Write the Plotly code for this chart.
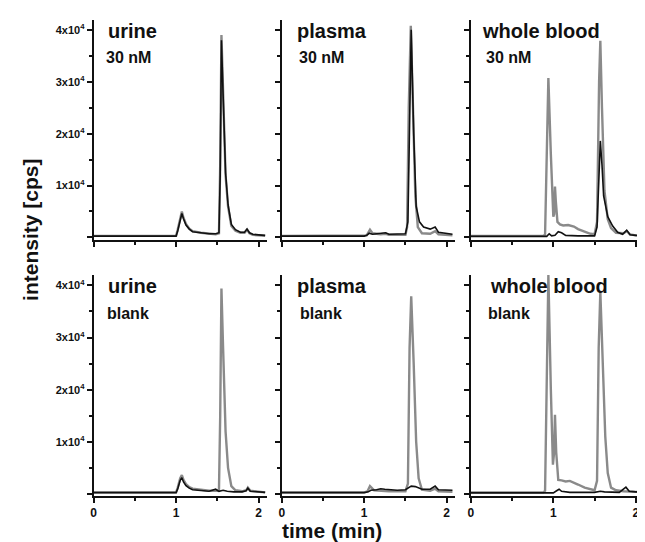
import plotly.graph_objects as go

# ---------------- data ----------------
# urine 30 nM
urine30_gray_t = [0, 0.5, 1.0, 1.02, 1.05, 1.07, 1.09, 1.12, 1.16, 1.2, 1.3, 1.4, 1.48, 1.52, 1.535, 1.55, 1.57, 1.6, 1.63, 1.67, 1.72, 1.78, 1.83, 1.86, 1.89, 1.93, 2.0, 2.08]
urine30_gray_v = [300, 300, 300, 1500, 3800, 5000, 3800, 2600, 1700, 1200, 900, 700, 600, 800, 14000, 39000, 27000, 12000, 6000, 2200, 1300, 900, 900, 1500, 800, 500, 400, 300]
urine30_black_t = [0, 0.5, 1.0, 1.02, 1.05, 1.07, 1.09, 1.12, 1.16, 1.2, 1.3, 1.4, 1.48, 1.52, 1.535, 1.55, 1.57, 1.6, 1.63, 1.67, 1.72, 1.78, 1.83, 1.86, 1.89, 1.93, 2.0, 2.08]
urine30_black_v = [250, 250, 250, 1300, 3500, 4600, 3600, 2400, 1600, 1100, 900, 700, 700, 900, 12000, 38000, 27500, 12500, 6300, 2500, 1500, 1000, 1000, 1600, 900, 600, 500, 400]

# urine blank
urineb_gray_t = [0, 0.5, 1.0, 1.02, 1.05, 1.07, 1.09, 1.12, 1.16, 1.2, 1.3, 1.4, 1.5, 1.52, 1.535, 1.55, 1.57, 1.6, 1.63, 1.67, 1.72, 1.8, 1.85, 1.87, 1.9, 2.0, 2.08]
urineb_gray_v = [300, 300, 300, 1200, 3000, 3600, 2700, 1900, 1300, 1000, 800, 600, 600, 800, 15000, 39400, 28000, 12000, 5000, 1500, 700, 500, 700, 1200, 600, 400, 300]
urineb_black_t = [0, 0.5, 1.0, 1.02, 1.05, 1.07, 1.09, 1.12, 1.16, 1.2, 1.3, 1.4, 1.48, 1.52, 1.57, 1.62, 1.7, 1.8, 1.85, 1.87, 1.9, 2.0, 2.08]
urineb_black_v = [250, 250, 250, 1000, 2600, 3100, 2300, 1600, 1100, 800, 600, 500, 900, 500, 700, 500, 400, 400, 600, 1100, 500, 400, 300]

# plasma 30 nM
plasma30_gray_t = [0, 0.5, 1.0, 1.03, 1.07, 1.1, 1.2, 1.26, 1.3, 1.5, 1.52, 1.54, 1.565, 1.59, 1.62, 1.65, 1.7, 1.8, 1.86, 1.9, 2.0, 2.07]
plasma30_gray_v = [300, 300, 300, 400, 1500, 800, 600, 700, 500, 500, 2000, 25000, 40800, 25000, 8000, 2000, 800, 700, 1200, 600, 400, 400]
plasma30_black_t = [0, 0.5, 1.0, 1.03, 1.06, 1.1, 1.2, 1.26, 1.3, 1.5, 1.53, 1.555, 1.57, 1.6, 1.63, 1.67, 1.72, 1.8, 1.86, 1.9, 2.0, 2.07]
plasma30_black_v = [250, 250, 250, 400, 800, 600, 700, 900, 600, 700, 3000, 30000, 40000, 20000, 6000, 3000, 2000, 1600, 2000, 1000, 700, 600]

# plasma blank
plasmab_gray_t = [0, 0.5, 1.0, 1.04, 1.07, 1.12, 1.3, 1.5, 1.53, 1.55, 1.57, 1.6, 1.63, 1.66, 1.7, 1.8, 1.86, 1.9, 2.0, 2.07]
plasmab_gray_v = [300, 300, 300, 500, 1500, 700, 500, 500, 2000, 28000, 37900, 25000, 10000, 3000, 800, 600, 1000, 500, 400, 400]
plasmab_black_t = [0, 0.5, 1.0, 1.05, 1.08, 1.15, 1.2, 1.25, 1.3, 1.4, 1.5, 1.57, 1.62, 1.7, 1.8, 1.86, 1.9, 2.0, 2.07]
plasmab_black_v = [250, 250, 250, 400, 700, 800, 1000, 900, 800, 700, 800, 1500, 1400, 900, 900, 1500, 800, 700, 700]

# whole blood 30 nM
blood30_gray_t = [0, 0.5, 0.88, 0.9, 0.92, 0.94, 0.97, 1.0, 1.01, 1.02, 1.03, 1.05, 1.08, 1.12, 1.18, 1.25, 1.3, 1.38, 1.45, 1.5, 1.53, 1.555, 1.57, 1.59, 1.62, 1.66, 1.7, 1.76, 1.85, 1.89, 1.93, 2.0, 2.07]
blood30_gray_v = [300, 300, 300, 500, 15000, 30700, 16000, 4000, 4500, 9800, 7000, 3000, 2500, 2300, 2400, 2100, 1600, 1100, 700, 600, 3000, 30000, 37900, 25000, 9000, 3500, 1800, 900, 800, 1200, 600, 400, 400]
blood30_black_t = [0, 0.5, 0.92, 0.95, 0.98, 1.02, 1.06, 1.1, 1.15, 1.3, 1.5, 1.53, 1.555, 1.57, 1.59, 1.61, 1.66, 1.72, 1.78, 1.84, 1.89, 1.93, 2.0, 2.07]
blood30_black_v = [200, 200, 200, 700, 300, 400, 1100, 900, 400, 300, 300, 2000, 12000, 18600, 14000, 8000, 4000, 2200, 1000, 600, 1400, 500, 400, 300]

# whole blood blank
bloodb_gray_t = [0, 0.5, 0.88, 0.9, 0.92, 0.94, 0.97, 0.995, 1.01, 1.02, 1.035, 1.06, 1.1, 1.15, 1.2, 1.25, 1.3, 1.38, 1.45, 1.5, 1.53, 1.55, 1.57, 1.6, 1.63, 1.66, 1.7, 1.76, 1.85, 2.0, 2.07]
bloodb_gray_v = [300, 300, 300, 600, 20000, 42000, 20000, 5600, 8000, 15200, 8000, 2700, 2600, 2400, 2500, 2200, 1800, 1200, 900, 700, 2500, 28000, 38800, 26000, 11000, 4000, 1200, 700, 500, 400, 400]
bloodb_black_t = [0, 0.5, 1.0, 1.04, 1.07, 1.1, 1.2, 1.5, 1.57, 1.62, 1.8, 1.88, 1.92, 2.0, 2.07]
bloodb_black_v = [200, 200, 200, 600, 900, 500, 300, 300, 500, 400, 300, 1300, 500, 400, 400]

panel_titles = ["urine", "plasma", "whole blood", "urine", "plasma", "whole blood"]
panel_subtitles = ["30 nM", "30 nM", "30 nM", "blank", "blank", "blank"]

y_tickvals = [0, 10000, 20000, 30000, 40000]
y_ticktext = ["", "1x10<sup>4</sup>", "2x10<sup>4</sup>", "3x10<sup>4</sup>", "4x10<sup>4</sup>"]
x_tickvals = [0, 1, 2]
x_ticktext = ["0", "1", "2"]

panels = [
    (urine30_gray_t, urine30_gray_v, urine30_black_t, urine30_black_v),
    (plasma30_gray_t, plasma30_gray_v, plasma30_black_t, plasma30_black_v),
    (blood30_gray_t, blood30_gray_v, blood30_black_t, blood30_black_v),
    (urineb_gray_t, urineb_gray_v, urineb_black_t, urineb_black_v),
    (plasmab_gray_t, plasmab_gray_v, plasmab_black_t, plasmab_black_v),
    (bloodb_gray_t, bloodb_gray_v, bloodb_black_t, bloodb_black_v),
]

# ---------------- layout geometry ----------------
W, H = 645, 542
FONT = "Liberation Sans, Arial, sans-serif"
col_px = [(83, 257), (272, 446), (462, 636)]
row_px = [(231.5, 11.5), (488.0, 267.0)]  # (bottom, top) in pixel y
title_dx = [12, 13, 9, 12, 13, 17]
sub_dx = [10, 15, 13, 11, 16, 15]


def fx(p):
    return p / W


def fy(p):
    return (H - p) / H


fig = go.Figure()
layout = {}
annotations = []

for i, (gt, gv, bt, bv) in enumerate(panels):
    r, c = divmod(i, 3)
    n = i + 1
    xa = "x" if n == 1 else f"x{n}"
    ya = "y" if n == 1 else f"y{n}"
    fig.add_trace(go.Scatter(x=gt, y=gv, mode="lines", xaxis=xa, yaxis=ya,
                             line=dict(color="#8a8a8a", width=2.4), showlegend=False))
    fig.add_trace(go.Scatter(x=bt, y=bv, mode="lines", xaxis=xa, yaxis=ya,
                             line=dict(color="#111111", width=1.6), showlegend=False))
    xk = "xaxis" if n == 1 else f"xaxis{n}"
    yk = "yaxis" if n == 1 else f"yaxis{n}"
    layout[xk] = dict(
        domain=[fx(col_px[c][0]), fx(col_px[c][1])], anchor=ya,
        range=[0, 2.1], showgrid=False, zeroline=False,
        showline=True, linecolor="#111", linewidth=2,
        ticks="outside", ticklen=5, tickwidth=2, tickcolor="#111",
        tickvals=x_tickvals, ticktext=x_ticktext,
        showticklabels=(r == 1),
        tickfont=dict(family=FONT, size=12, color="#111", weight="bold"),
        minor=dict(tickvals=[0.5, 1.5], ticklen=3, tickwidth=1.5, tickcolor="#111", ticks="outside"),
    )
    layout[yk] = dict(
        domain=[fy(row_px[r][0]), fy(row_px[r][1])], anchor=xa,
        range=[-400, 42000], showgrid=False, zeroline=False,
        showline=True, linecolor="#111", linewidth=2,
        ticks="outside", ticklen=5, tickwidth=2, tickcolor="#111",
        tickvals=y_tickvals, ticktext=y_ticktext,
        showticklabels=(c == 0),
        tickfont=dict(family=FONT, size=11, color="#111", weight="bold"),
        minor=dict(tickvals=[5000, 15000, 25000, 35000], ticklen=3, tickwidth=1.5, tickcolor="#111", ticks="outside"),
    )
    ty_title = row_px[r][1] + 11
    ty_sub = row_px[r][1] + 38
    annotations.append(dict(text=panel_titles[i], x=fx(col_px[c][0] + title_dx[i]), y=fy(ty_title),
                            xref="paper", yref="paper",
                            xanchor="left", yanchor="middle", showarrow=False,
                            font=dict(family=FONT, size=20, color="#111", weight="bold")))
    annotations.append(dict(text=panel_subtitles[i], x=fx(col_px[c][0] + sub_dx[i]), y=fy(ty_sub),
                            xref="paper", yref="paper",
                            xanchor="left", yanchor="middle", showarrow=False,
                            font=dict(family=FONT, size=16, color="#111", weight="bold")))

annotations.append(dict(text="intensity [cps]", x=fx(19), y=fy(222), xref="paper", yref="paper",
                        xanchor="center", yanchor="middle", textangle=-90, showarrow=False,
                        font=dict(family=FONT, size=21, color="#111", weight="bold")))
annotations.append(dict(text="time (min)", x=fx(323), y=fy(522), xref="paper", yref="paper",
                        xanchor="center", yanchor="middle", showarrow=False,
                        font=dict(family=FONT, size=21, color="#111", weight="bold")))

fig.update_layout(
    width=W, height=H,
    margin=dict(l=0, r=0, t=0, b=0),
    paper_bgcolor="white", plot_bgcolor="white",
    annotations=annotations,
    **layout,
)

fig.write_html("out.html")
